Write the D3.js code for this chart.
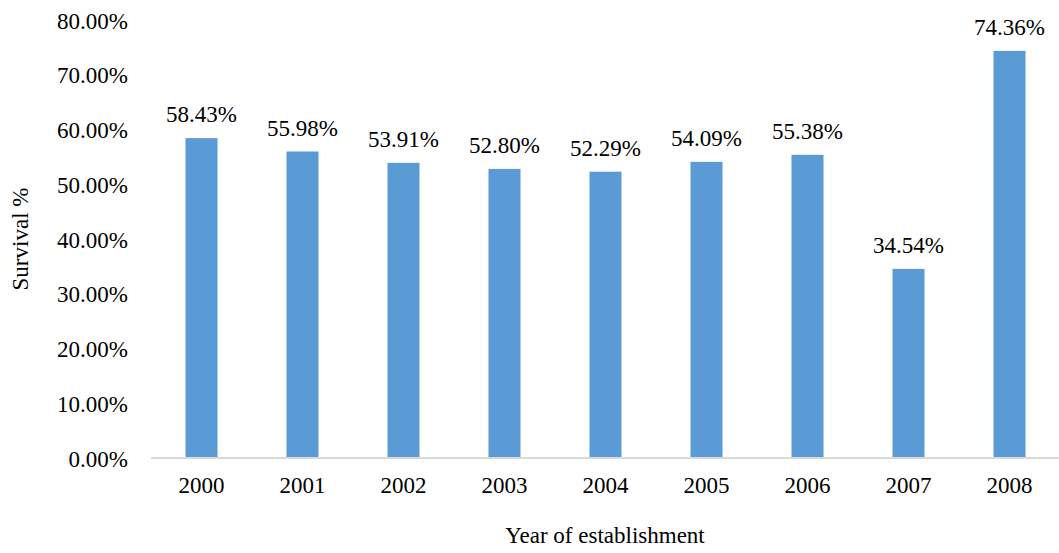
<!DOCTYPE html>
<html>
<head>
<meta charset="utf-8">
<script src="https://cdn.jsdelivr.net/npm/d3@7"></script>
<style>
  body { margin: 0; background: #fff; }
</style>
</head>
<body>
<div id="chart"></div>
<script>
const years = ["2000", "2001", "2002", "2003", "2004", "2005", "2006", "2007", "2008"];
const survival = [58.43, 55.98, 53.91, 52.80, 52.29, 54.09, 55.38, 34.54, 74.36];
const yTicks = [0, 10, 20, 30, 40, 50, 60, 70, 80];

const width = 1059, height = 553;
const margin = {top: 20, right: -1, bottom: 95, left: 151};
const serif = "'Liberation Serif', 'Times New Roman', serif";

const svg = d3.select("#chart").append("svg")
    .attr("width", width)
    .attr("height", height);

const x = d3.scaleBand()
    .domain(years)
    .range([margin.left, width - margin.right])
    .paddingInner(0.683)
    .paddingOuter(0.3415);

const y = d3.scaleLinear()
    .domain([0, 80])
    .range([height - margin.bottom, margin.top]);

// bars
svg.selectAll("rect.bar")
    .data(years)
    .enter().append("rect")
    .attr("class", "bar")
    .attr("x", d => x(d))
    .attr("width", x.bandwidth())
    .attr("y", (d, i) => y(survival[i]))
    .attr("height", (d, i) => y(0) - y(survival[i]))
    .attr("fill", "#5b9bd5");

// value labels
svg.selectAll("text.val")
    .data(years)
    .enter().append("text")
    .attr("class", "val")
    .attr("x", d => x(d) + x.bandwidth() / 2)
    .attr("y", (d, i) => y(survival[i]) - 16)
    .attr("text-anchor", "middle")
    .text((d, i) => survival[i].toFixed(2) + "%");

// x axis
const xAxis = svg.append("g")
    .attr("transform", "translate(0," + y(0) + ")")
    .call(d3.axisBottom(x).tickSize(0).tickPadding(19));
xAxis.select(".domain").attr("stroke", "#d9d9d9").attr("stroke-width", 2)
    .attr("d", "M" + margin.left + ",0H" + width);
xAxis.selectAll("text").attr("dy", "0.71em");

// y axis (labels only)
const yAxis = svg.append("g")
    .attr("transform", "translate(" + margin.left + ",0)")
    .call(d3.axisLeft(y).tickValues(yTicks).tickSize(0).tickPadding(23)
      .tickFormat(d => d.toFixed(2) + "%"));
yAxis.select(".domain").remove();
yAxis.selectAll("text").attr("dy", "0.35em");

// axis titles
svg.append("text")
    .attr("x", (margin.left + width) / 2)
    .attr("y", 543)
    .attr("text-anchor", "middle")
    .text("Year of establishment");

svg.append("text")
    .attr("transform", "translate(28," + y(40) + ") rotate(-90)")
    .attr("text-anchor", "middle")
    .text("Survival %");

svg.selectAll("g").attr("font-family", null).attr("font-size", null);
svg.selectAll("text")
    .style("font-family", serif)
    .style("font-size", "23px")
    .attr("fill", "#000");
</script>
</body>
</html>
